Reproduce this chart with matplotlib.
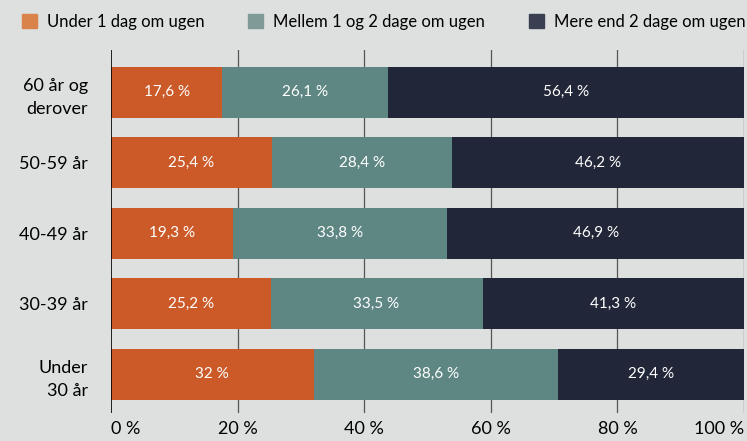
import matplotlib
matplotlib.use("Agg")
import matplotlib.pyplot as plt
from matplotlib.patches import Patch

categories = ["Under\n30 år", "30-39 år", "40-49 år", "50-59 år", "60 år og\nderover"]
under1 = [32.0, 25.2, 19.3, 25.4, 17.6]
mellem = [38.6, 33.5, 33.8, 28.4, 26.1]
mere = [29.4, 41.3, 46.9, 46.2, 56.4]
series_names = ["Under 1 dag om ugen", "Mellem 1 og 2 dage om ugen", "Mere end 2 dage om ugen"]
xticks = [0, 20, 40, 60, 80, 100]

colors = ["#cc5a28", "#5e8783", "#212638"]
legend_colors = ["#d9834a", "#7f9a97", "#3a3f52"]
bg = "#dde0de"

plt.rcParams['font.family'] = ['Lato', 'DejaVu Sans']

fig = plt.figure(figsize=(7.47, 4.41), dpi=100, facecolor=bg)
ax = fig.add_axes([0.1486, 0.0635, 0.8474, 0.8231], facecolor=bg)

def fmt(v):
    s = ("%.1f" % v).replace(".", ",")
    if s.endswith(",0"):
        s = s[:-2]
    return s + " %"

y = list(range(len(categories)))
left = [0.0] * len(categories)
for vals, c in zip([under1, mellem, mere], colors):
    ax.barh(y, vals, left=left, height=0.72, color=c, zorder=2)
    for yi, l, v in zip(y, left, vals):
        ax.text(l + v / 2, yi, fmt(v), ha="center", va="center", color="white", fontsize=11, zorder=3)
    left = [a + b for a, b in zip(left, vals)]

ax.set_xlim(0, 100)
ax.set_ylim(-0.55, 4.6)
ax.set_xticks(xticks)
xt = ax.set_xticklabels([f"{t} %" for t in xticks], fontsize=13)
xt[0].set_ha("left")
xt[-1].set_ha("right")
ax.set_yticks(y)
ax.set_yticklabels(categories, fontsize=13, ha="right", linespacing=1.55)
ax.tick_params(axis="y", length=0, pad=16.5)
ax.tick_params(axis="x", length=0, pad=6)
for t in xticks[1:]:
    ax.axvline(t, color="#555555", lw=0.9, zorder=1)
ax.axvline(0, color="black", lw=1.2, zorder=4)
for s in ax.spines.values():
    s.set_visible(False)

handles = [Patch(color=c) for c in legend_colors]
fig.legend(handles, series_names, loc="upper left", bbox_to_anchor=(0.0144, 0.995), ncol=3,
           frameon=False, fontsize=12, handlelength=0.9, handleheight=0.9,
           handletextpad=0.6, columnspacing=2.6, borderaxespad=0.3)

fig.savefig("out.png", dpi=100, facecolor=bg)
